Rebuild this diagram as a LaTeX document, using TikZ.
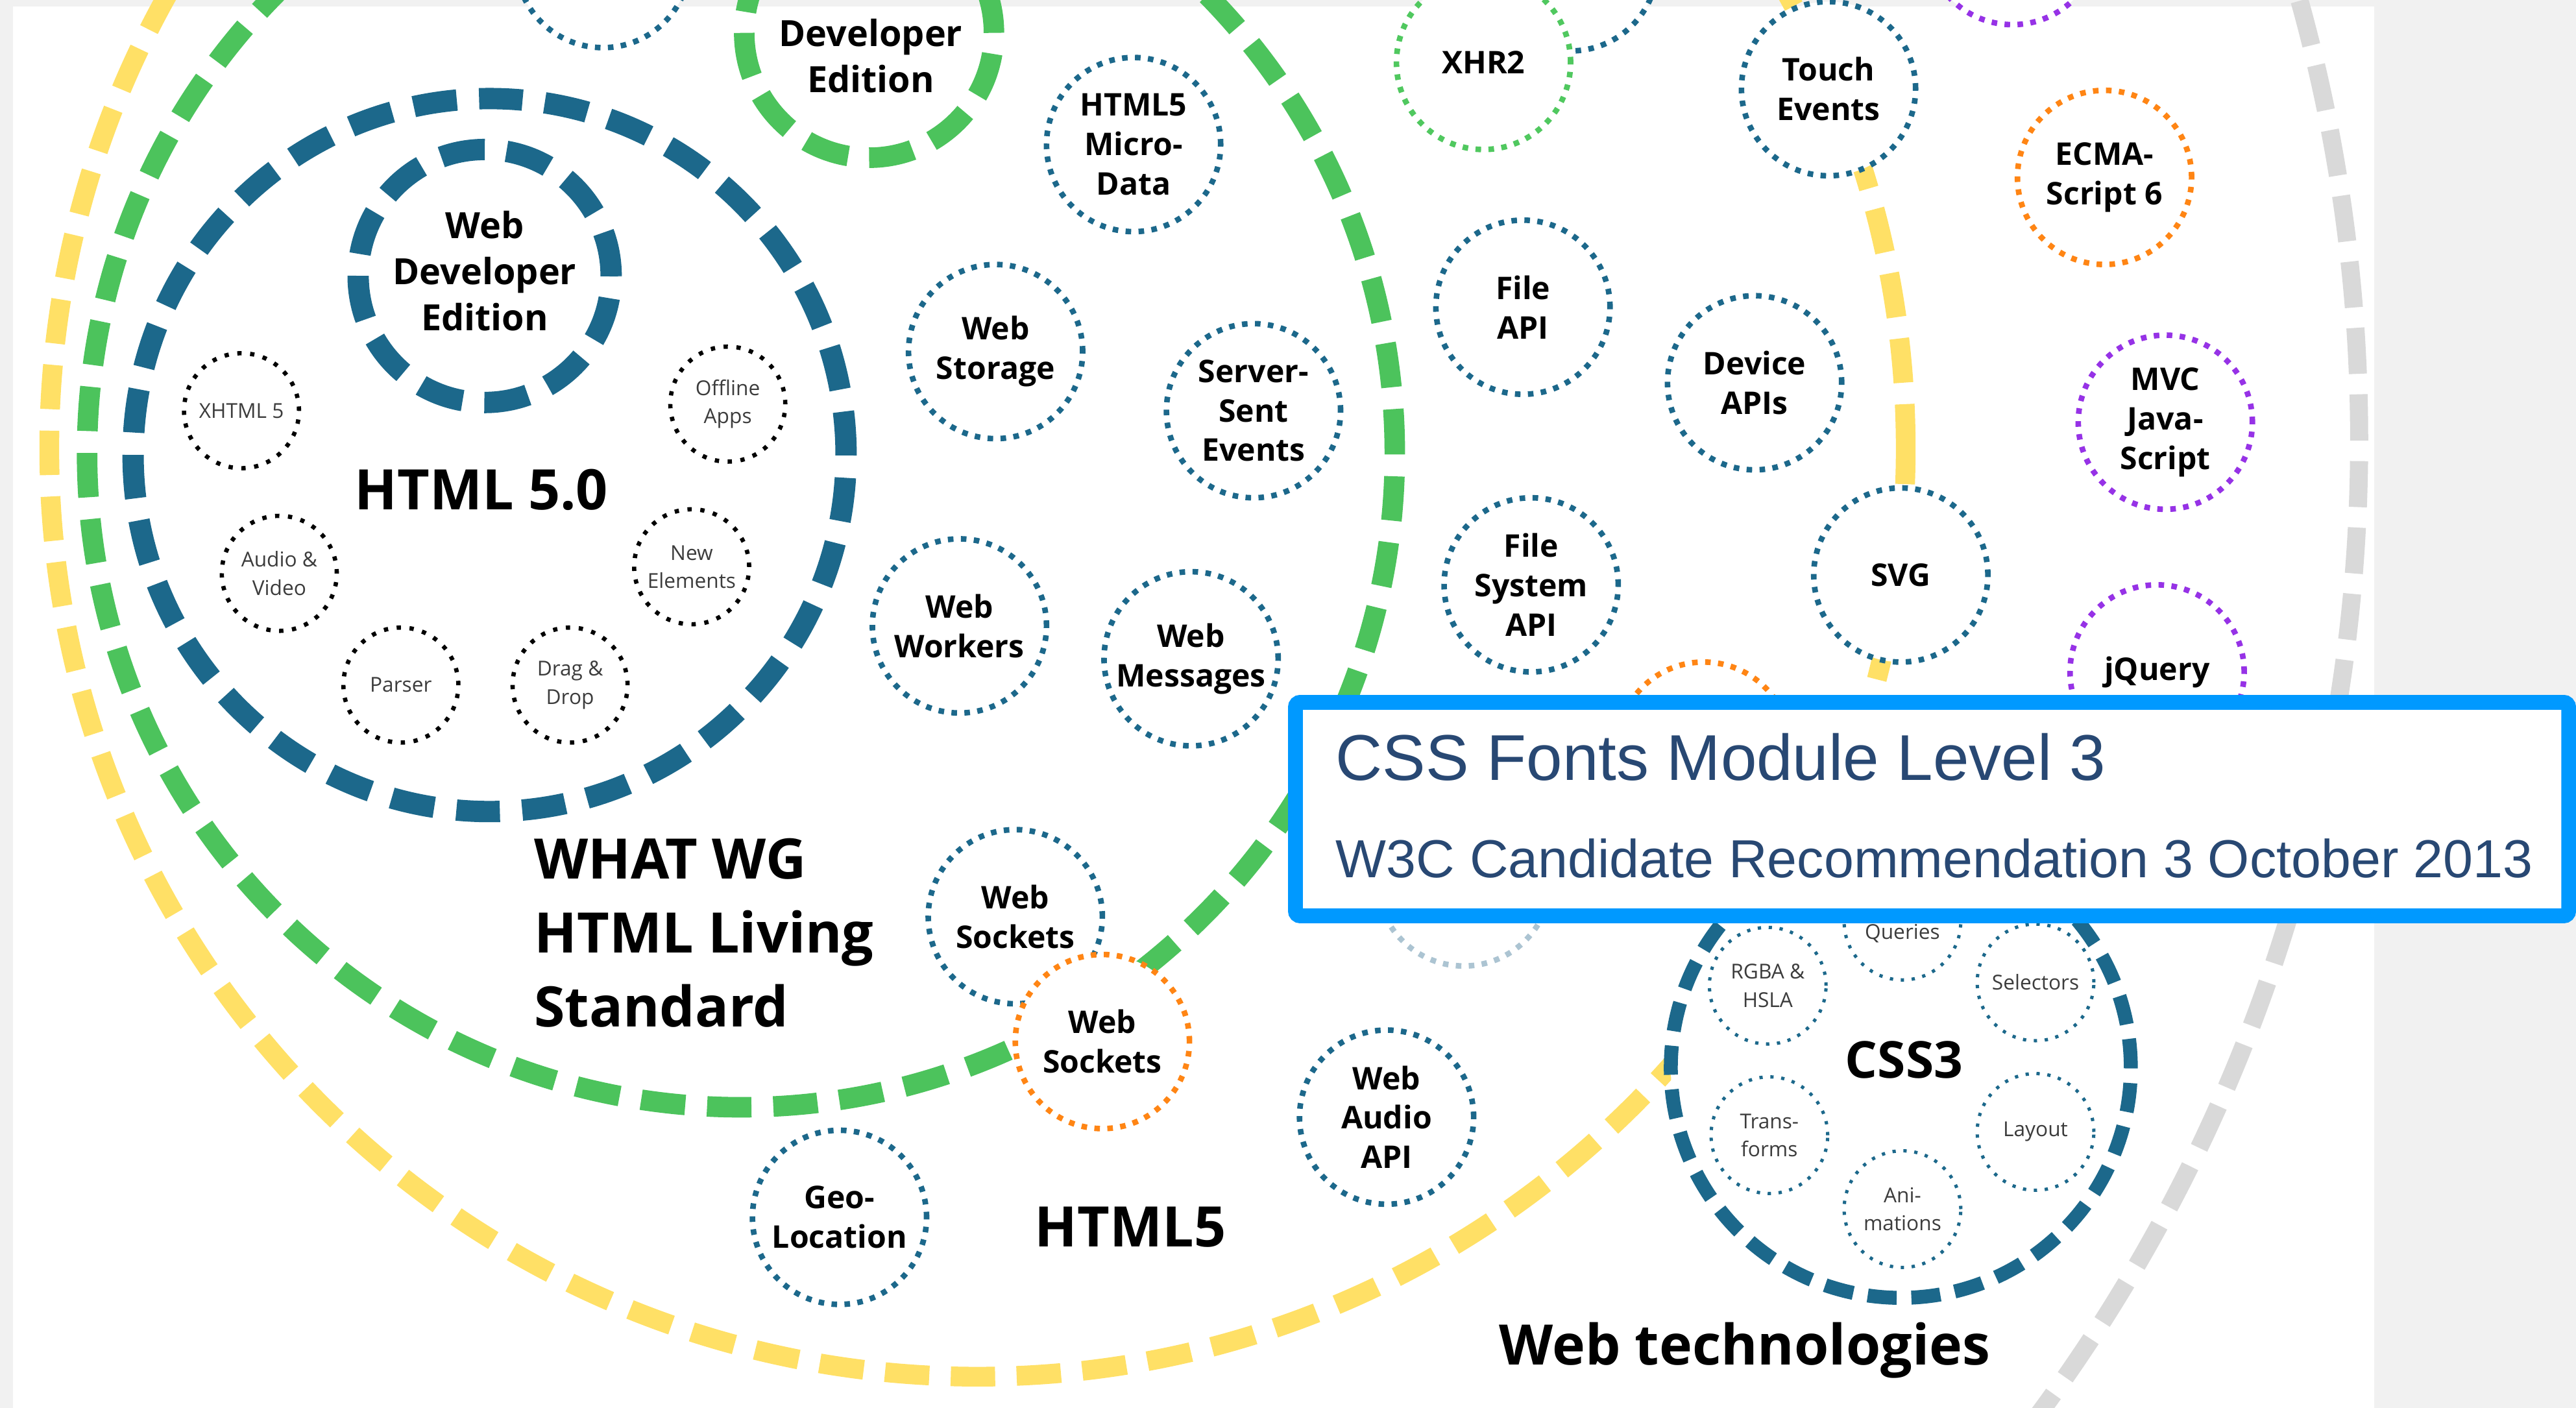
\documentclass[tikz,border=0pt]{standalone}
\usepackage{fontspec}
\setmainfont{Open Sans}
\newfontfamily\notefont{Liberation Sans}
\definecolor{bggray}{RGB}{241,241,241}
\definecolor{ringgray}{RGB}{217,217,217}
\definecolor{ringyellow}{RGB}{255,224,102}
\definecolor{ringgreen}{RGB}{76,195,92}
\definecolor{tealblue}{RGB}{28,104,139}
\definecolor{dotgreen}{RGB}{80,200,95}
\definecolor{dotorange}{RGB}{255,133,20}
\definecolor{dotpurple}{RGB}{150,50,230}
\definecolor{fadeblue}{RGB}{172,196,210}
\definecolor{featgray}{RGB}{60,60,60}
\definecolor{boxblue}{RGB}{0,153,255}
\definecolor{notetext}{RGB}{40,72,115}

\begin{document}
\begin{tikzpicture}[x=1pt,y=-1pt]
\tikzset{ring/.style={circle,draw=#1,inner sep=0pt},
	topic/.style={circle,draw=#1,fill=white,line width=3.4pt,
	dash pattern=on 3.4pt off 4.5pt,minimum size=106pt,inner sep=0pt,
	align=center,text=black,font=\bfseries\fontsize{19}{24}\selectfont},
	feature/.style={circle,draw=black,line width=2.6pt,
	dash pattern=on 2.6pt off 5.25pt,minimum size=70pt,inner sep=0pt,
	align=center,text=featgray,font=\fontsize{12.5}{17}\selectfont},
	cssbit/.style={feature,draw=tealblue,line width=2pt,
	dash pattern=on 2pt off 4.65pt,minimum size=71pt},
	bigtext/.style={font=\bfseries\fontsize{#1}{45}\selectfont,inner sep=0pt}}
\fill[bggray] (0,0) rectangle (1568,857);
\fill[white] (8,4) rectangle (1445,857);
\useasboundingbox (0,0) rectangle (1568,857);
\node[ring=ringgray,line width=11pt,dash pattern=on 28pt off 12.46pt,minimum size=1996pt] (webtech) at (438,268) {};
\node[ring=ringyellow,line width=12pt,dash pattern=on 27pt off 13.1pt,minimum size=1130pt] (html5) at (595,273) {};
\node[ring=ringgreen,line width=12.5pt,dash pattern=on 27pt off 13.33pt,minimum size=796pt] (whatwg) at (451,276) {};
\node[ring=tealblue,line width=13pt,dash pattern=on 26.5pt off 13.6pt,minimum size=434pt] (html50) at (298,277) {};
\node[ring=tealblue,line width=13pt,dash pattern=on 27pt off 13.3pt,minimum size=154pt] (webdev) at (295,168) {};
\node[bigtext=22,align=center,font=\bfseries\fontsize{22}{28}\selectfont] (webdevtxt) at (295,165) {Web\\Developer\\Edition};
\node[ring=ringgreen,line width=12.5pt,dash pattern=on 27pt off 12.8pt,minimum size=152pt] (devtop) at (529,20) {};
\node[bigtext=22,align=center,font=\bfseries\fontsize{22}{28}\selectfont] (devtoptxt) at (530,34) {Developer\\Edition};

\node[feature] (xhtml) at (147,250) {XHTML 5};
\node[feature] (offline) at (443,246) {Offline\\Apps};
\node[feature] (audio) at (170,349) {Audio \&\\Video};
\node[feature] (newel) at (421,345) {New\\Elements};
\node[feature] (parser) at (244,417) {Parser};
\node[feature] (dragdrop) at (347,417) {Drag \&\\Drop};

\node[topic=tealblue] (topleft) at (367,-24) {};
\node[topic=tealblue] (topmid) at (956,-22) {};
\node[topic=dotpurple] (topright) at (1225,-38) {};
\node[topic=tealblue] (microdata) at (690,88) {HTML5\\Micro-\\Data};
\node[topic=tealblue] (storage) at (606,214) {Web\\Storage};
\node[topic=tealblue] (sse) at (763,250) {Server-\\Sent\\Events};
\node[topic=dotgreen] (xhr) at (903,38) {XHR2};
\node[topic=tealblue] (fileapi) at (927,187) {File\\API};
\node[topic=tealblue] (device) at (1068,233) {Device\\APIs};
\node[topic=tealblue] (filesys) at (932,356) {File\\System\\API};
\node[topic=tealblue] (workers) at (584,381) {Web\\Workers};
\node[topic=tealblue] (messages) at (725,401) {Web\\Messages};
\node[topic=tealblue] (touch) at (1113,54) {Touch\\Events};
\node[topic=tealblue] (svg) at (1157,350) {SVG};
\node[topic=dotorange] (ecma) at (1281,108) {ECMA-\\Script 6};
\node[topic=dotpurple] (mvc) at (1318,257) {MVC\\Java-\\Script};
\node[topic=dotpurple] (jquery) at (1313,409) {jQuery};
\node[topic=dotorange] (hidden) at (1037,456) {};
\node[topic=fadeblue] (faded) at (891,535) {};
\node[topic=tealblue] (sockets) at (618,558) {Web\\Sockets};
\node[topic=dotorange] (socketsnew) at (671,634) {Web\\Sockets};
\node[topic=tealblue] (geo) at (511,741) {Geo-\\Location};
\node[topic=tealblue] (webaudio) at (844,680) {Web\\Audio\\API};

\node[ring=tealblue,fill=white,line width=8.5pt,dash pattern=on 17.7pt off 8.95pt,minimum size=280pt] (css) at (1157,650) {};
\node[cssbit] (queries) at (1158,561) {};
\node[text=featgray,font=\fontsize{12.5}{17}\selectfont] (queriestxt) at (1158,568) {Queries};
\node[cssbit] (rgba) at (1076,600) {RGBA \&\\HSLA};
\node[cssbit] (selectors) at (1239,598) {Selectors};
\node[cssbit] (transforms) at (1077,691) {Trans-\\forms};
\node[cssbit] (layout) at (1239,689) {Layout};
\node[cssbit] (anim) at (1158,736) {Ani-\\mations};

\node[bigtext=34] (html50txt) at (293,298) {HTML 5.0};
\node[bigtext=34,align=left,anchor=west] (whatwgtxt) at (325,568) {WHAT WG\\HTML Living\\Standard};
\node[bigtext=34] (html5txt) at (688,747) {HTML5};
\node[bigtext=31] (csstxt) at (1159,645) {CSS3};
\node[bigtext=34] (webtechtxt) at (1062,822) {Web technologies};

\node[draw=boxblue,line width=9pt,fill=white,rounded corners=3pt,anchor=north west,inner sep=0pt,outer sep=0pt,
	minimum width=775pt,minimum height=130pt] (note) at (788.5,427.5) {};
\node[anchor=base west,inner sep=0pt,text=notetext,font=\notefont\fontsize{39.4}{40}\selectfont] (spec) at (813,475) {CSS Fonts Module Level 3};
\node[anchor=base west,inner sep=0pt,text=notetext,font=\notefont\fontsize{32.6}{36}\selectfont] (status) at (813,534) {W3C Candidate Recommendation 3 October 2013};
\end{tikzpicture}
\end{document}
